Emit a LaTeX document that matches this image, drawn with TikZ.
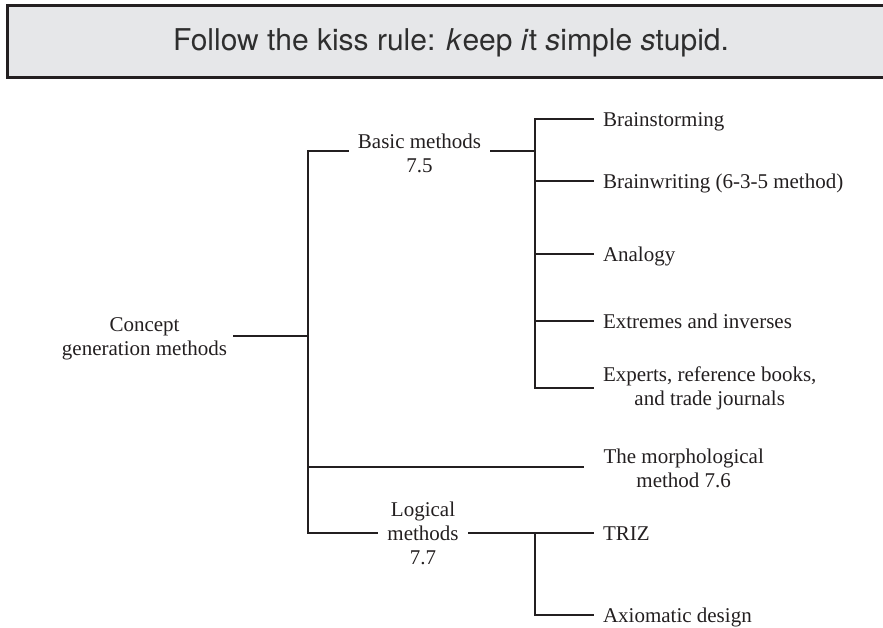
\documentclass[tikz,border=0pt]{standalone}
\usepackage{fontspec}
\setmainfont{Liberation Serif}
\newfontfamily\bannerfont{TeX Gyre Heros}
\definecolor{ink}{HTML}{231F20}
\definecolor{bannerfill}{HTML}{E6E7E9}
\begin{document}
\begin{tikzpicture}[x=1pt,y=-1pt,
  every node/.style={font=\fontsize{21}{24}\selectfont, text=ink, inner sep=0pt},
  leaf/.style={anchor=west, outer xsep=9pt, text height=14.3pt, text depth=0pt},
  group/.style={align=center, outer xsep=9pt},
  branch/.style={draw=ink, line width=1.3pt},
]
\useasboundingbox (0,0) rectangle (883,627);

% banner with the rule
\fill[bannerfill] (7.5,5.5) rectangle (883,77.5);
\draw[line width=3pt, ink] (883,5.5) -- (7.5,5.5) -- (7.5,77.5) -- (883,77.5);
\node[font=\bannerfont\fontsize{30}{36}\selectfont, anchor=base, text=black!82] (kiss) at (451,50)
  {Follow the kiss rule: \textit{k}eep \textit{i}t \textit{s}imple \textit{s}tupid.};

% junction points of the tree
\coordinate (jb) at (308,151);
\coordinate (jc) at (308,336);
\coordinate (jm) at (308,467);
\coordinate (jl) at (308,533);
\coordinate (kb) at (535,151);
\coordinate (kl) at (535,533);

% root and intermediate groups
\node[group, outer xsep=6pt] (concept) at (144.5,339) {Concept\\generation methods};
\node[group] (basic) at (419.5,153) {Basic methods\\7.5};
\node[group, outer xsep=9.5pt] (logic) at (423,533) {Logical\\methods\\7.7};

% leaves
\node[leaf] (storm)   at (594,119) {Brainstorming};
\node[leaf] (writing) at (594,181) {Brainwriting (6-3-5 method)};
\node[leaf] (analogy) at (594,254) {Analogy};
\node[leaf] (extreme) at (594,321) {Extremes and inverses};
\node[group, anchor=west] (experts) at (594,388) {Experts, reference books,\\and trade journals};
\node[group, anchor=west, outer xsep=19.5pt] (morph) at (584,468) {The morphological\\method 7.6};
\node[leaf] (triz)    at (594,533) {TRIZ};
\node[leaf] (axiom)   at (594,615) {Axiomatic design};

% trunk
\draw[branch] (concept.east |- jc) -- (jc);
\draw[branch] (basic.west |- jb) -- (jb) -- (jl) -- (logic.west |- jl);
\draw[branch] (jm) -- (morph.west |- jm);

% basic methods
\draw[branch] (basic.east |- jb) -- (kb);
\draw[branch] (storm.west) -- (storm.west -| kb) -- (experts.west -| kb) -- (experts.west);
\draw[branch] (writing.west) -- (writing.west -| kb);
\draw[branch] (analogy.west) -- (analogy.west -| kb);
\draw[branch] (extreme.west) -- (extreme.west -| kb);

% logical methods
\draw[branch] (logic.east |- jl) -- (triz.west);
\draw[branch] (kl) -- (axiom.west -| kl) -- (axiom.west);
\end{tikzpicture}
\end{document}
